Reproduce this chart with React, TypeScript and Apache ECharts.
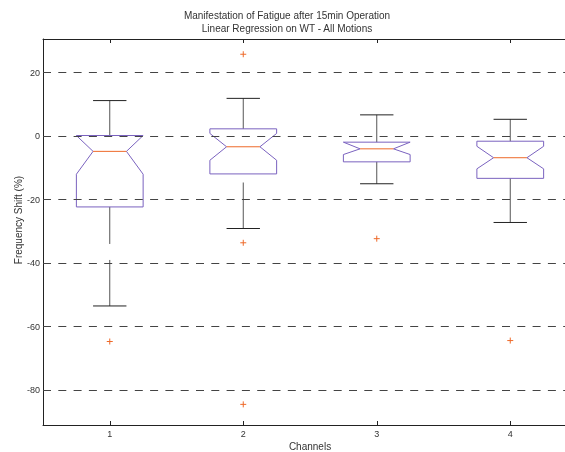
import React, { useEffect, useRef } from "react";
import * as echarts from "echarts";

// ---- data ----
const channels = [1, 2, 3, 4];
const whiskerHigh = [11.2, 11.9, 6.7, 5.3];
const q3 = [0.2, 2.3, -1.9, -1.6];
const notchHigh = [0.2, 0.85, -1.9, -3.2];
const median = [-4.8, -3.35, -4.0, -6.8];
const notchLow = [-12.0, -7.6, -5.8, -10.3];
const q1 = [-22.3, -11.9, -8.1, -13.3];
const whiskerLow = [-53.5, -29.1, -15.0, -27.2];

const outlierChannel = [1, 2, 2, 2, 3, 4];
const outlierValue = [-64.7, 25.8, -33.6, -84.5, -32.3, -64.4];

const yTicks = [-80, -60, -40, -20, 0, 20];
const xTicks = [1, 2, 3, 4];

const titleLines = ["Manifestation of Fatigue after 15min Operation", "Linear Regression on WT - All Motions"];

const BOX = "#7a62bf";
const MED = "#ee6a2a";
const FONT = "'Liberation Sans', Arial, Helvetica, sans-serif";

export default function App() {
  const ref = useRef<HTMLDivElement>(null);
  useEffect(() => {
    document.body.style.margin = "0";
    const chart = echarts.init(ref.current!, null, { renderer: "svg" });
    const boxData = channels.map((c, i) => [c, whiskerLow[i], q1[i], notchLow[i], median[i], notchHigh[i], q3[i], whiskerHigh[i]]);
    const outData = outlierChannel.map((c, i) => [c, outlierValue[i]]);
    const bw = 0.25;
    const nw = 0.125;

    const axisCommon = {
      type: "value",
      min: 0.5,
      max: 4.5,
      splitLine: { show: false },
      axisLine: { show: true, onZero: false, lineStyle: { color: "#222", width: 1 } },
      axisTick: { show: true, inside: true, length: 4, customValues: xTicks, lineStyle: { color: "#222" } },
    };

    chart.setOption({
      animation: false,
      textStyle: { fontFamily: FONT },
      grid: { left: 43, top: 39, width: 534, height: 386, outerBoundsMode: "none", containLabel: false },
      xAxis: [
        {
          ...axisCommon,
          position: "bottom",
          axisLabel: { customValues: xTicks, fontSize: 9, color: "#333", margin: 4, fontFamily: FONT },
        },
        {
          ...axisCommon,
          position: "top",
          axisLabel: { show: false },
        },
      ],
      yAxis: {
        type: "value",
        min: -91,
        max: 30.6,
        splitLine: { show: false },
        axisLine: { show: true, onZero: false, lineStyle: { color: "#222", width: 1 } },
        axisTick: { show: true, inside: true, length: 4, customValues: yTicks, lineStyle: { color: "#222" } },
        axisLabel: { customValues: yTicks, fontSize: 9, color: "#333", margin: 3, fontFamily: FONT },
      },
      graphic: [
        {
          type: "text",
          x: 287,
          y: 15,
          style: { text: titleLines[0], font: `10px ${FONT}`, fill: "#333", align: "center", verticalAlign: "middle" },
        },
        {
          type: "text",
          x: 287,
          y: 28.5,
          style: { text: titleLines[1], font: `10px ${FONT}`, fill: "#333", align: "center", verticalAlign: "middle" },
        },
        {
          type: "text",
          x: 310,
          y: 446,
          style: { text: "Channels", font: `10px ${FONT}`, fill: "#333", align: "center", verticalAlign: "middle" },
        },
        {
          type: "text",
          x: 18,
          y: 220,
          rotation: Math.PI / 2,
          style: { text: "Frequency Shift (%)", font: `10px ${FONT}`, fill: "#333", align: "center", verticalAlign: "middle" },
        },
      ],
      series: [
        {
          type: "line",
          data: [],
          z: 1,
          markLine: {
            silent: true,
            symbol: "none",
            label: { show: false },
            lineStyle: { color: "#444", type: [8, 7.3], width: 1 },
            data: yTicks.map((v) => ({ yAxis: v })),
          },
        },
        {
          type: "custom",
          z: 2,
          data: boxData,
          renderItem: (params: any, api: any) => {
            const x = api.value(0);
            const wl = api.value(1), bq1 = api.value(2), nlo = api.value(3), med = api.value(4);
            const nhi = Math.min(api.value(5), api.value(6)), bq3 = api.value(6), wh = api.value(7);
            const c = (dx: number, y: number) => api.coord([x + dx, y]);
            const poly = [
              c(-bw, bq1), c(-bw, nlo), c(-nw, med), c(-bw, nhi), c(-bw, bq3),
              c(bw, bq3), c(bw, nhi), c(nw, med), c(bw, nlo), c(bw, bq1),
            ];
            const line = (a: number[], b: number[], stroke: string, dash?: number[]) => ({
              type: "line",
              shape: { x1: a[0], y1: a[1], x2: b[0], y2: b[1] },
              style: { stroke, lineWidth: 1, lineDash: dash, fill: null },
            });
            return {
              type: "group",
              children: [
                line(c(0, wh), c(0, bq3), "#555", [46, 16]),
                line(c(0, wl), c(0, bq1), "#555", [46, 16]),
                line(c(-nw, wh), c(nw, wh), "#222"),
                line(c(-nw, wl), c(nw, wl), "#222"),
                {
                  type: "polygon",
                  shape: { points: poly },
                  style: { stroke: BOX, fill: "none", lineWidth: 1 },
                },
                line(c(-nw, med), c(nw, med), MED),
              ],
            };
          },
        },
        {
          type: "custom",
          z: 3,
          data: outData,
          renderItem: (params: any, api: any) => {
            const p = api.coord([api.value(0), api.value(1)]);
            const s = 3;
            return {
              type: "group",
              children: [
                { type: "line", shape: { x1: p[0] - s, y1: p[1], x2: p[0] + s, y2: p[1] }, style: { stroke: MED, lineWidth: 1 } },
                { type: "line", shape: { x1: p[0], y1: p[1] - s, x2: p[0], y2: p[1] + s }, style: { stroke: MED, lineWidth: 1 } },
              ],
            };
          },
        },
      ],
    });
    return () => chart.dispose();
  }, []);
  return <div ref={ref} style={{ position: "fixed", left: 0, top: 0, width: 565, height: 452 }} />;
}
